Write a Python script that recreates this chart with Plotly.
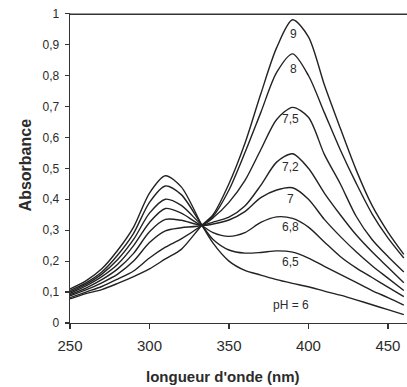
import plotly.graph_objects as go

# ---- data ----
wavelength = [250, 260, 270, 280, 290, 300, 310, 320, 333, 340, 350, 360,
              370, 380, 390, 400, 410, 420, 430, 440, 450, 460]

abs_ph6 = [0.110, 0.136, 0.175, 0.235, 0.310, 0.420, 0.476, 0.440, 0.316, 0.258, 0.200, 0.170,
           0.155, 0.140, 0.128, 0.117, 0.103, 0.090, 0.075, 0.059, 0.043, 0.027]
abs_ph65 = [0.105, 0.130, 0.165, 0.220, 0.290, 0.390, 0.443, 0.415, 0.316, 0.270, 0.236, 0.226,
            0.228, 0.233, 0.229, 0.210, 0.183, 0.157, 0.131, 0.105, 0.082, 0.058]
abs_ph68 = [0.100, 0.125, 0.158, 0.205, 0.270, 0.355, 0.400, 0.380, 0.316, 0.292, 0.280, 0.292,
            0.325, 0.343, 0.338, 0.310, 0.262, 0.215, 0.178, 0.147, 0.116, 0.085]
abs_ph7 = [0.096, 0.120, 0.150, 0.190, 0.250, 0.325, 0.370, 0.355, 0.316, 0.320, 0.333, 0.360,
           0.405, 0.430, 0.437, 0.400, 0.335, 0.280, 0.230, 0.185, 0.145, 0.105]
abs_ph72 = [0.092, 0.113, 0.140, 0.175, 0.225, 0.295, 0.335, 0.332, 0.316, 0.326, 0.342, 0.378,
            0.445, 0.520, 0.547, 0.500, 0.420, 0.350, 0.285, 0.230, 0.180, 0.130]
abs_ph75 = [0.088, 0.107, 0.130, 0.158, 0.200, 0.260, 0.298, 0.308, 0.316, 0.340, 0.390, 0.460,
            0.560, 0.658, 0.697, 0.665, 0.545, 0.450, 0.345, 0.270, 0.215, 0.165]
abs_ph8 = [0.082, 0.100, 0.118, 0.142, 0.168, 0.210, 0.245, 0.272, 0.316, 0.345, 0.430, 0.550,
           0.680, 0.810, 0.870, 0.800, 0.680, 0.560, 0.452, 0.353, 0.275, 0.210]
abs_ph9 = [0.078, 0.095, 0.108, 0.128, 0.150, 0.175, 0.207, 0.238, 0.316, 0.350, 0.450, 0.580,
           0.740, 0.890, 0.980, 0.925, 0.770, 0.630, 0.495, 0.380, 0.294, 0.222]

curve_labels = ["pH = 6", "6,5", "6,8", "7", "7,2", "7,5", "8", "9"]
label_x = [389.3, 388.8, 388.8, 388.4, 388.8, 388.8, 390.3, 390.9]
label_y = [0.058, 0.198, 0.309, 0.402, 0.504, 0.658, 0.820, 0.935]

x_tick_vals = [250, 300, 350, 400, 450]
y_tick_vals = [0, 0.1, 0.2, 0.3, 0.4, 0.5, 0.6, 0.7, 0.8, 0.9, 1]
y_tick_text = ["0", "0,1", "0,2", "0,3", "0,4", "0,5", "0,6", "0,7", "0,8", "0,9", "1"]

series = [abs_ph6, abs_ph65, abs_ph68, abs_ph7, abs_ph72, abs_ph75, abs_ph8, abs_ph9]

FONT = "Liberation Sans, Arial, sans-serif"
INK = "#2b2b2b"

fig = go.Figure()
for ys in series:
    fig.add_trace(go.Scatter(
        x=wavelength, y=ys, mode="lines",
        line=dict(color="#222222", width=1.4, shape="spline", smoothing=0.8),
        hoverinfo="skip"))

for t, xv, yv in zip(curve_labels, label_x, label_y):
    fig.add_annotation(x=xv, y=yv, text=t, showarrow=False,
                       font=dict(family=FONT, size=12, color=INK),
                       xanchor="center", yanchor="middle")

fig.add_annotation(xref="paper", yref="paper", x=-0.132, y=0.51,
                   text="<b>Absorbance</b>", textangle=-90, showarrow=False,
                   font=dict(family=FONT, size=16, color=INK),
                   xanchor="center", yanchor="middle")
fig.add_annotation(xref="paper", yref="paper", x=0.454, y=-0.171,
                   text="<b>longueur d'onde (nm)</b>", showarrow=False,
                   font=dict(family=FONT, size=15, color=INK),
                   xanchor="center", yanchor="middle")

# top frame line of the plot area (just inside the plotting area)
fig.add_shape(type="line", xref="paper", yref="y", x0=0, x1=1, y0=0.998, y1=0.998,
              line=dict(color="#333333", width=1.3), layer="above")

fig.update_layout(
    width=407, height=387,
    margin=dict(l=70, r=0, t=13, b=64),
    plot_bgcolor="white", paper_bgcolor="white",
    showlegend=False,
    font=dict(family=FONT, color=INK),
)
fig.update_xaxes(
    range=[250, 462], tickvals=x_tick_vals, automargin=False,
    ticks="outside", ticklen=5, tickwidth=1.2, tickcolor="#333333",
    showline=True, linecolor="#333333", linewidth=1.3,
    showgrid=False, zeroline=False,
    tickfont=dict(family=FONT, size=15, color=INK),
    ticklabelstandoff=4,
)
fig.update_yaxes(
    range=[0, 1.002], tickvals=y_tick_vals, ticktext=y_tick_text, automargin=False,
    ticks="outside", ticklen=4, tickwidth=1.2, tickcolor="#333333",
    showline=True, linecolor="#333333", linewidth=1.3,
    showgrid=False, zeroline=False,
    tickfont=dict(family=FONT, size=12, color=INK),
    ticklabelstandoff=3,
)

fig.write_html(
    "out.html",
    config={"displayModeBar": False, "staticPlot": True},
    post_script="document.body.style.margin='0';document.body.style.padding='0';"
                "document.body.style.overflow='hidden';",
)
